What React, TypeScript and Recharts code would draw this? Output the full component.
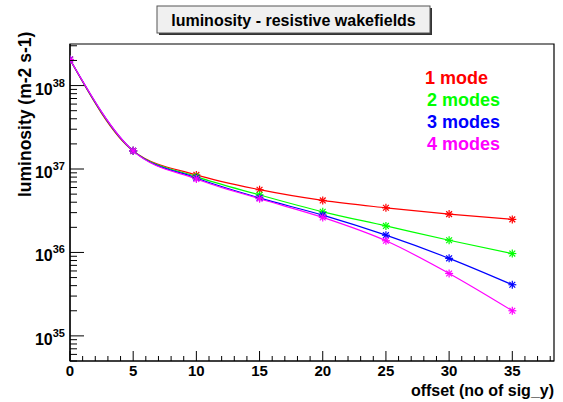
import React from 'react';
import { LineChart, Line, XAxis, YAxis, ReferenceArea } from 'recharts';

const offsets = [0, 5, 10, 15, 20, 25, 30, 35];
const mode1 = [2.05e38, 1.65e37, 8.5e36, 5.65e36, 4.2e36, 3.43e36, 2.88e36, 2.49e36];
const mode2 = [2.05e38, 1.65e37, 8.1e36, 4.9e36, 3.07e36, 2.08e36, 1.4e36, 9.7e35];
const mode3 = [2.05e38, 1.65e37, 7.8e36, 4.5e36, 2.8e36, 1.61e36, 8.5e35, 4.1e35];
const mode4 = [2.05e38, 1.65e37, 7.6e36, 4.4e36, 2.63e36, 1.38e36, 5.6e35, 2.0e35];

const seriesNames = ['1 mode', '2 modes', '3 modes', '4 modes'];
const seriesColors = ['#ff0000', '#00ff00', '#0000ff', '#ff00ff'];

const Y_MIN = 5e34;
const Y_MAX = 3.15e38;
const X_MAX = 38.3;

const xTicks: number[] = [];
for (let i = 0; i <= 38; i++) xTicks.push(i);

const yTicks: number[] = [];
for (let e = 34; e <= 38; e++) {
  for (let m = 1; m <= 9; m++) {
    const v = m * Math.pow(10, e);
    if (v >= Y_MIN && v <= Y_MAX) yTicks.push(v);
  }
}

const data = offsets.map((x, i) => ({
  x,
  m1: mode1[i],
  m2: mode2[i],
  m3: mode3[i],
  m4: mode4[i],
}));

const FONT = '"Liberation Sans", Arial, Helvetica, sans-serif';

const XTick = (props: any) => {
  const { x, y, payload } = props;
  const v = payload.value;
  const major = v % 5 === 0;
  return (
    <g>
      <line x1={x} x2={x} y1={y} y2={y - (major ? 10 : 5)} stroke="#000" />
      {major && (
        <text x={x} y={y + 15} textAnchor="middle" fontFamily={FONT} fontWeight="bold" fontSize={15} fill="#000">
          {v}
        </text>
      )}
    </g>
  );
};

const YTick = (props: any) => {
  const { x, y, payload } = props;
  const v = payload.value;
  const exp = Math.floor(Math.log10(v) + 1e-9);
  const mant = Math.round(v / Math.pow(10, exp));
  const major = mant === 1;
  return (
    <g>
      <line x1={x} x2={x + (major ? 14 : 7)} y1={y} y2={y} stroke="#000" />
      {major && (
        <text x={x - 5} y={y + 9} textAnchor="end" fontFamily={FONT} fontWeight="bold" fontSize={16} fill="#000">
          <tspan>10</tspan>
          <tspan dy={-8} fontSize={11}>{exp}</tspan>
        </text>
      )}
    </g>
  );
};

const makeStar = (color: string) => (p: any) => {
  const { cx, cy, index } = p;
  if (cx == null || cy == null) return <g key={index} />;
  const r = 4;
  const d = 2.9;
  return (
    <g key={index} stroke={color} strokeWidth={1.2}>
      <line x1={cx - r} x2={cx + r} y1={cy} y2={cy} />
      <line x1={cx} x2={cx} y1={cy - r} y2={cy + r} />
      <line x1={cx - d} x2={cx + d} y1={cy - d} y2={cy + d} />
      <line x1={cx - d} x2={cx + d} y1={cy + d} y2={cy - d} />
    </g>
  );
};

export default function App() {
  const keys = ['m1', 'm2', 'm3', 'm4'];
  return (
    <div style={{ position: 'absolute', left: 0, top: 0, width: 563, height: 402, background: '#fff' }}>
      <LineChart width={563} height={402} data={data} margin={{ top: 44, right: 9, bottom: 0, left: 0 }}>
        <XAxis
          dataKey="x"
          type="number"
          domain={[0, X_MAX]}
          ticks={xTicks}
          interval={0}
          allowDataOverflow
          height={41}
          tickSize={0}
          tickMargin={0}
          tickLine={false}
          axisLine={{ stroke: '#000', strokeWidth: 1.2 }}
          tick={<XTick />}
        />
        <YAxis
          scale="log"
          type="number"
          domain={[Y_MIN, Y_MAX]}
          ticks={yTicks}
          interval={0}
          allowDataOverflow
          width={70}
          tickSize={0}
          tickMargin={0}
          tickLine={false}
          axisLine={{ stroke: '#000', strokeWidth: 1.2 }}
          tick={<YTick />}
        />
        <ReferenceArea x1={0} x2={X_MAX} y1={Y_MIN} y2={Y_MAX} fill="none" stroke="#000" strokeWidth={1.2} ifOverflow="visible" />
        {keys.map((k, i) => (
          <Line
            key={k}
            dataKey={k}
            type="monotone"
            stroke={seriesColors[i]}
            strokeWidth={1.2}
            dot={makeStar(seriesColors[i])}
            activeDot={false}
            isAnimationActive={false}
          />
        ))}
      </LineChart>
      <svg width={563} height={402} style={{ position: 'absolute', left: 0, top: 0, pointerEvents: 'none' }}>
        <rect x={159} y={8} width={273} height={27} fill="#333" />
        <rect x={157} y={6} width={273} height={27} fill="#f0f0f0" stroke="#555" strokeWidth={1} />
        <text x={293.5} y={26} textAnchor="middle" fontFamily={FONT} fontWeight="bold" fontSize={16} fill="#000">
          luminosity - resistive wakefields
        </text>
        {seriesNames.map((n, i) => (
          <text key={n} x={i === 0 ? 425 : 427} y={84 + i * 22} fontFamily={FONT} fontWeight="bold" fontSize={18} fill={seriesColors[i]}>
            {n}
          </text>
        ))}
        <text
          transform="translate(31, 197) rotate(-90)"
          textAnchor="start"
          fontFamily={FONT}
          fontWeight="bold"
          fontSize={17.5}
          fill="#000"
        >
          luminosity (m-2 s-1)
        </text>
        <text x={554} y={396} textAnchor="end" fontFamily={FONT} fontWeight="bold" fontSize={16} fill="#000">
          offset (no of sig_y)
        </text>
      </svg>
    </div>
  );
}
